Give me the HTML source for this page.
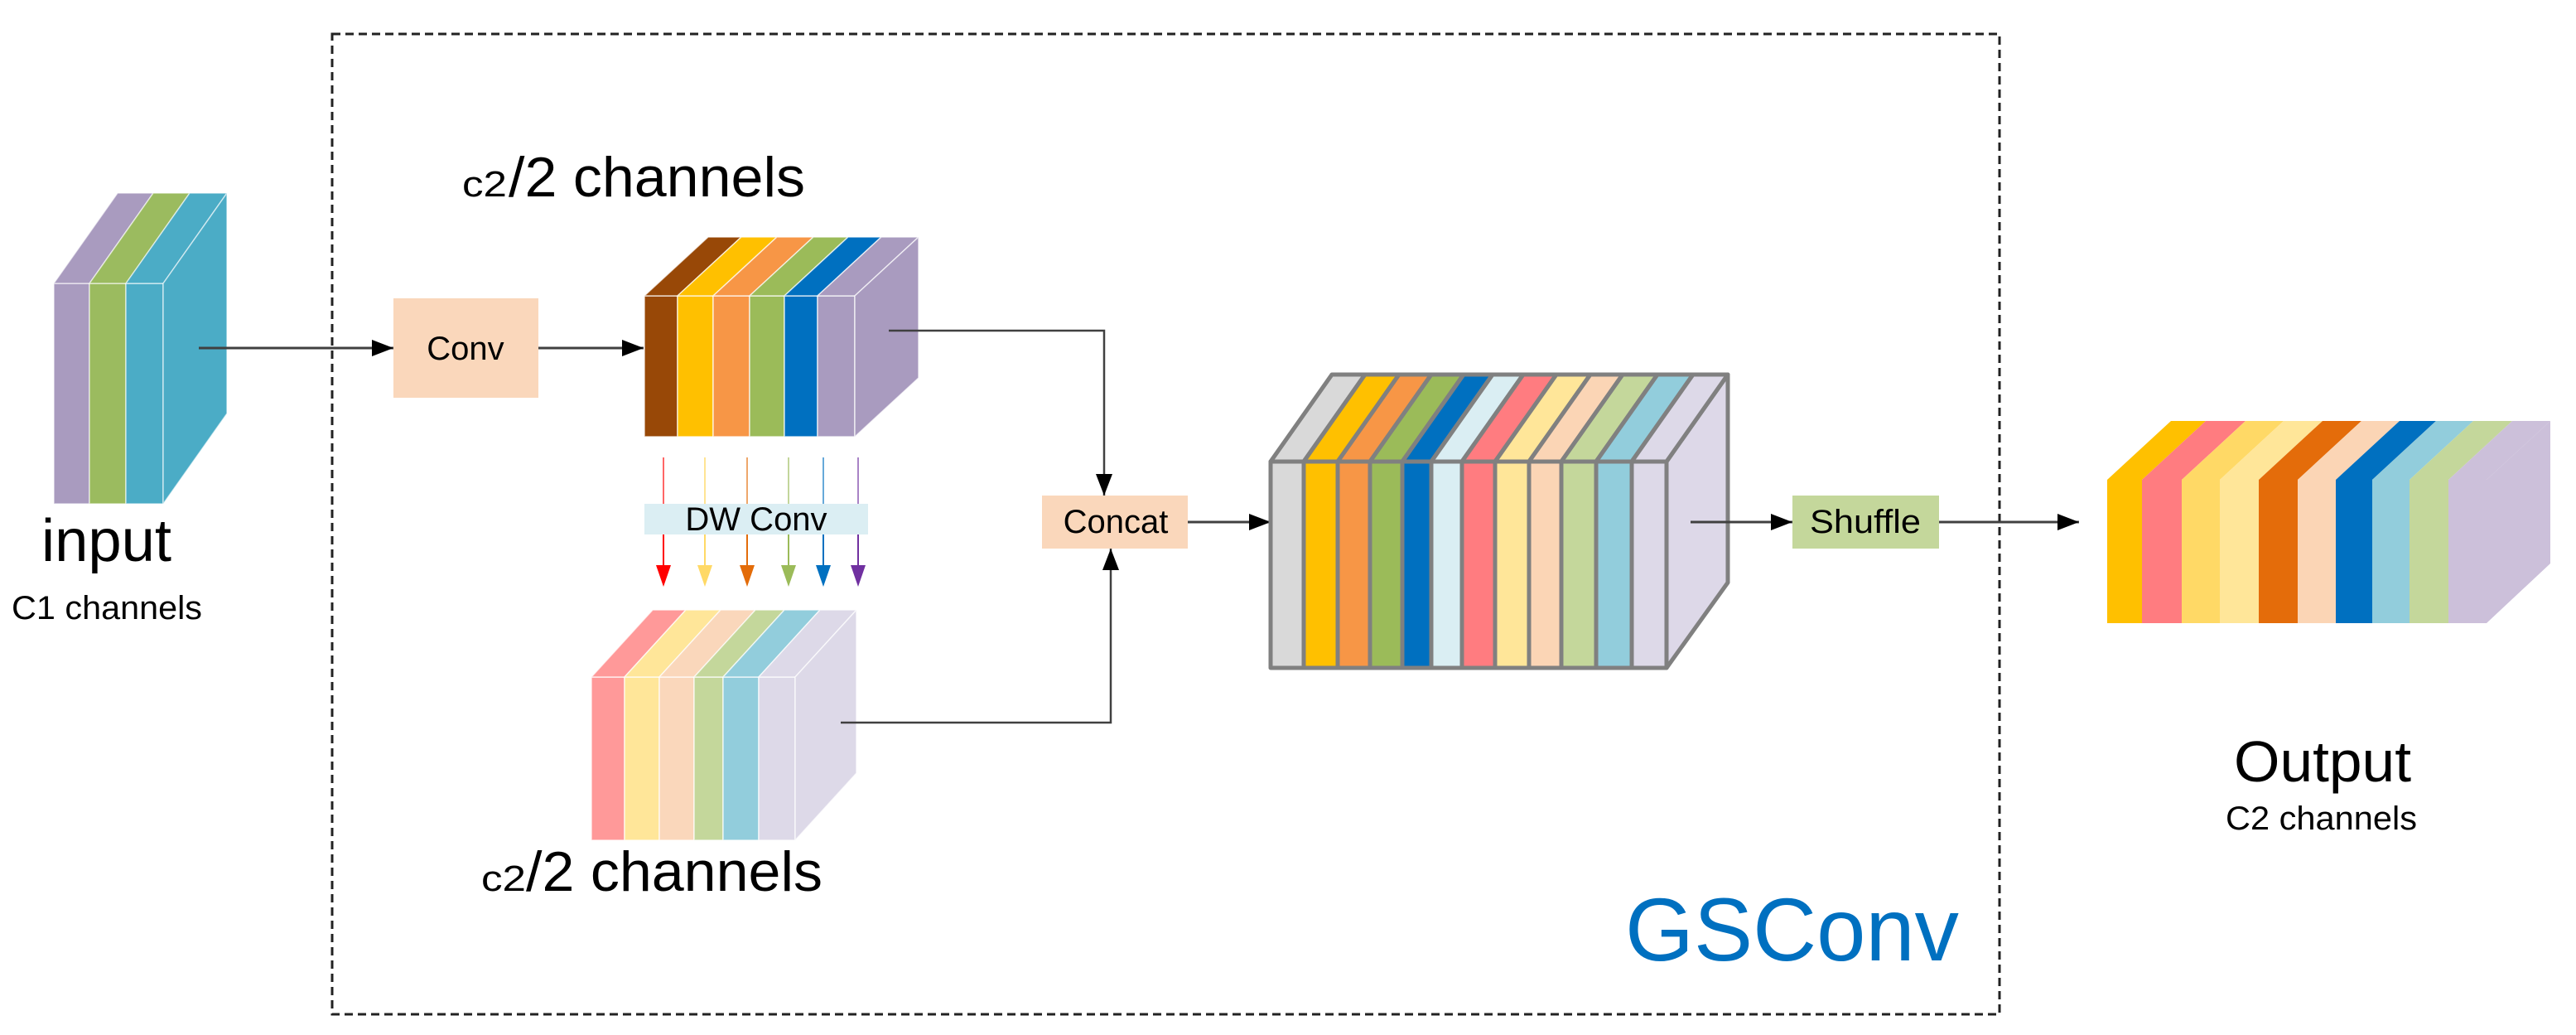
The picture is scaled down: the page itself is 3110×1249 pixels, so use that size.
<!DOCTYPE html>
<html><head><meta charset="utf-8"><style>
html,body{margin:0;padding:0;background:#fff;}
svg{display:block;}
text{font-family:"Liberation Sans",Arial,sans-serif;}
</style></head><body>
<svg width="3110" height="1249" viewBox="0 0 3110 1249" xmlns="http://www.w3.org/2000/svg">
<defs>
<marker id="ah" markerUnits="userSpaceOnUse" markerWidth="26" markerHeight="20" refX="26" refY="10" orient="auto">
<path d="M0,0 L26,10 L0,20 z" fill="#000"/>
</marker>
</defs>
<rect x="0" y="0" width="3110" height="1249" fill="#fff"/>
<!-- dashed box -->
<rect x="401" y="41" width="2013" height="1183" fill="none" stroke="#222" stroke-width="3" stroke-dasharray="10,6"/>

<!-- input block -->
<g stroke="#fff" stroke-width="1.5" stroke-opacity="0.6">
<rect x="65" y="342" width="43" height="266" fill="#a99bbf"/>
<rect x="108" y="342" width="44" height="266" fill="#9bbb5f"/>
<rect x="152" y="342" width="45" height="266" fill="#4bacc6"/>
<polygon points="65,342 142,233 185,233 108,342" fill="#a99bbf"/>
<polygon points="108,342 185,233 229,233 152,342" fill="#9bbb5f"/>
<polygon points="152,342 229,233 274,233 197,342" fill="#4bacc6"/>
<polygon points="197,342 274,233 274,499 197,608" fill="#4bacc6"/>
</g>
<text x="50" y="677" font-size="72" textLength="157" lengthAdjust="spacingAndGlyphs">input</text>
<text x="14" y="747" font-size="40" textLength="230" lengthAdjust="spacingAndGlyphs">C1 channels</text>

<!-- input -> conv -->
<line x1="240" y1="420" x2="475" y2="420" stroke="#404040" stroke-width="3" marker-end="url(#ah)"/>
<rect x="475" y="360" width="175" height="120" fill="#fad7bb"/>
<text x="562" y="434" font-size="40" text-anchor="middle">Conv</text>
<line x1="650" y1="420" x2="777" y2="420" stroke="#404040" stroke-width="3" marker-end="url(#ah)"/>

<!-- top label -->
<text x="558" y="237" font-size="44" textLength="54" lengthAdjust="spacingAndGlyphs">c2</text>
<text x="614" y="237" font-size="68" textLength="358" lengthAdjust="spacingAndGlyphs">/2 channels</text>

<!-- top block -->
<g stroke="#fff" stroke-width="1.5" stroke-opacity="0.7">
<rect x="778" y="357" width="40" height="170" fill="#984807"/>
<rect x="818" y="357" width="43" height="170" fill="#ffc000"/>
<rect x="861" y="357" width="44" height="170" fill="#f79646"/>
<rect x="905" y="357" width="42" height="170" fill="#9bbb59"/>
<rect x="947" y="357" width="40" height="170" fill="#0070c0"/>
<rect x="987" y="357" width="45" height="170" fill="#a99bbf"/>
<polygon points="778,357 855,286 895,286 818,357" fill="#984807"/>
<polygon points="818,357 895,286 938,286 861,357" fill="#ffc000"/>
<polygon points="861,357 938,286 982,286 905,357" fill="#f79646"/>
<polygon points="905,357 982,286 1024,286 947,357" fill="#9bbb59"/>
<polygon points="947,357 1024,286 1064,286 987,357" fill="#0070c0"/>
<polygon points="987,357 1064,286 1109,286 1032,357" fill="#a99bbf"/>
<polygon points="1032,357 1109,286 1109,456 1032,527" fill="#a99bbf"/>
</g>

<!-- DW conv arrows -->
<g stroke-width="2">
<line x1="801" y1="552" x2="801" y2="608" stroke="#ff0000" stroke-opacity="0.6"/>
<line x1="851" y1="552" x2="851" y2="608" stroke="#ffd966" stroke-opacity="0.7"/>
<line x1="902" y1="552" x2="902" y2="608" stroke="#e36c09" stroke-opacity="0.6"/>
<line x1="952" y1="552" x2="952" y2="608" stroke="#9bbb59" stroke-opacity="0.6"/>
<line x1="994" y1="552" x2="994" y2="608" stroke="#0070c0" stroke-opacity="0.6"/>
<line x1="1036" y1="552" x2="1036" y2="608" stroke="#7030a0" stroke-opacity="0.6"/>
<line x1="801" y1="645" x2="801" y2="690" stroke="#ff0000"/>
<line x1="851" y1="645" x2="851" y2="690" stroke="#ffd966"/>
<line x1="902" y1="645" x2="902" y2="690" stroke="#e36c09"/>
<line x1="952" y1="645" x2="952" y2="690" stroke="#9bbb59"/>
<line x1="994" y1="645" x2="994" y2="690" stroke="#0070c0"/>
<line x1="1036" y1="645" x2="1036" y2="690" stroke="#7030a0"/>
</g>
<polygon points="792,682 810,682 801,708" fill="#ff0000"/>
<polygon points="842,682 860,682 851,708" fill="#ffd966"/>
<polygon points="893,682 911,682 902,708" fill="#e36c09"/>
<polygon points="943,682 961,682 952,708" fill="#9bbb59"/>
<polygon points="985,682 1003,682 994,708" fill="#0070c0"/>
<polygon points="1027,682 1045,682 1036,708" fill="#7030a0"/>
<rect x="778" y="608" width="270" height="37" fill="#dbeef3"/>
<text x="913" y="640" font-size="40" text-anchor="middle">DW Conv</text>

<!-- bottom block -->
<g stroke="#fff" stroke-width="1.5" stroke-opacity="0.7">
<rect x="714" y="817" width="40" height="197" fill="#ff9999"/>
<rect x="754" y="817" width="42" height="197" fill="#ffe699"/>
<rect x="796" y="817" width="42" height="197" fill="#fad7bb"/>
<rect x="838" y="817" width="35" height="197" fill="#c4d79b"/>
<rect x="873" y="817" width="43" height="197" fill="#92cddc"/>
<rect x="916" y="817" width="44" height="197" fill="#ddd9e8"/>
<polygon points="714,817 788,736 828,736 754,817" fill="#ff9999"/>
<polygon points="754,817 828,736 870,736 796,817" fill="#ffe699"/>
<polygon points="796,817 870,736 912,736 838,817" fill="#fad7bb"/>
<polygon points="838,817 912,736 947,736 873,817" fill="#c4d79b"/>
<polygon points="873,817 947,736 990,736 916,817" fill="#92cddc"/>
<polygon points="916,817 990,736 1034,736 960,817" fill="#ddd9e8"/>
<polygon points="960,817 1034,736 1034,933 960,1014" fill="#ddd9e8"/>
</g>
<text x="581" y="1075" font-size="44" textLength="54" lengthAdjust="spacingAndGlyphs">c2</text>
<text x="635" y="1075" font-size="68" textLength="358" lengthAdjust="spacingAndGlyphs">/2 channels</text>

<!-- connectors to concat -->
<polyline points="1073,399 1333,399 1333,598" fill="none" stroke="#404040" stroke-width="2.5" marker-end="url(#ah)"/>
<polyline points="1015,872 1341,872 1341,662" fill="none" stroke="#404040" stroke-width="2.5" marker-end="url(#ah)"/>
<rect x="1258" y="598" width="176" height="64" fill="#fad7bb"/>
<text x="1347" y="643" font-size="40" text-anchor="middle">Concat</text>
<line x1="1434" y1="630" x2="1534" y2="630" stroke="#404040" stroke-width="3" marker-end="url(#ah)"/>

<!-- concat block -->
<g stroke="#808080" stroke-width="5" stroke-linejoin="round">
<polygon points="2012,557 2086,452 2086,703 2012,806" fill="#ddd8e8"/>
<polygon points="1534,557 1608,452 1648,452 1574,557" fill="#d9d9d9"/>
<polygon points="1574,557 1648,452 1689,452 1615,557" fill="#ffc000"/>
<polygon points="1615,557 1689,452 1728,452 1654,557" fill="#f79646"/>
<polygon points="1654,557 1728,452 1767,452 1693,557" fill="#9bbb59"/>
<polygon points="1693,557 1767,452 1802,452 1728,557" fill="#0070c0"/>
<polygon points="1728,557 1802,452 1839,452 1765,557" fill="#daeef3"/>
<polygon points="1765,557 1839,452 1879,452 1805,557" fill="#ff7c80"/>
<polygon points="1805,557 1879,452 1920,452 1846,557" fill="#ffe699"/>
<polygon points="1846,557 1920,452 1959,452 1885,557" fill="#fbd5b5"/>
<polygon points="1885,557 1959,452 2001,452 1927,557" fill="#c4d79b"/>
<polygon points="1927,557 2001,452 2044,452 1970,557" fill="#92cddc"/>
<polygon points="1970,557 2044,452 2086,452 2012,557" fill="#ddd9e8"/>
<rect x="1534" y="557" width="40" height="249" fill="#d9d9d9"/>
<rect x="1574" y="557" width="41" height="249" fill="#ffc000"/>
<rect x="1615" y="557" width="39" height="249" fill="#f79646"/>
<rect x="1654" y="557" width="39" height="249" fill="#9bbb59"/>
<rect x="1693" y="557" width="35" height="249" fill="#0070c0"/>
<rect x="1728" y="557" width="37" height="249" fill="#daeef3"/>
<rect x="1765" y="557" width="40" height="249" fill="#ff7c80"/>
<rect x="1805" y="557" width="41" height="249" fill="#ffe699"/>
<rect x="1846" y="557" width="39" height="249" fill="#fbd5b5"/>
<rect x="1885" y="557" width="42" height="249" fill="#c4d79b"/>
<rect x="1927" y="557" width="43" height="249" fill="#92cddc"/>
<rect x="1970" y="557" width="42" height="249" fill="#ddd9e8"/>
</g>

<!-- shuffle -->
<line x1="2041" y1="630" x2="2164" y2="630" stroke="#404040" stroke-width="3" marker-end="url(#ah)"/>
<rect x="2164" y="598" width="177" height="64" fill="#c4d79b"/>
<text x="2252" y="643" font-size="40" text-anchor="middle" textLength="134" lengthAdjust="spacingAndGlyphs">Shuffle</text>
<line x1="2341" y1="630" x2="2510" y2="630" stroke="#404040" stroke-width="3" marker-end="url(#ah)"/>

<!-- output block -->
<g>
<rect x="2544" y="579" width="42" height="173" fill="#ffc000"/>
<rect x="2586" y="579" width="48" height="173" fill="#ff7c80"/>
<rect x="2634" y="579" width="46" height="173" fill="#ffd966"/>
<rect x="2680" y="579" width="47" height="173" fill="#ffe699"/>
<rect x="2727" y="579" width="47" height="173" fill="#e46c0a"/>
<rect x="2774" y="579" width="46" height="173" fill="#fbd5b5"/>
<rect x="2820" y="579" width="44" height="173" fill="#0070c0"/>
<rect x="2864" y="579" width="45" height="173" fill="#92cddc"/>
<rect x="2909" y="579" width="47" height="173" fill="#c4d79b"/>
<rect x="2956" y="579" width="46" height="173" fill="#ccc0da"/>
<polygon points="2544,579 2621,508 2663,508 2586,579" fill="#ffc000"/>
<polygon points="2586,579 2663,508 2711,508 2634,579" fill="#ff7c80"/>
<polygon points="2634,579 2711,508 2757,508 2680,579" fill="#ffd966"/>
<polygon points="2680,579 2757,508 2804,508 2727,579" fill="#ffe699"/>
<polygon points="2727,579 2804,508 2851,508 2774,579" fill="#e46c0a"/>
<polygon points="2774,579 2851,508 2897,508 2820,579" fill="#fbd5b5"/>
<polygon points="2820,579 2897,508 2941,508 2864,579" fill="#0070c0"/>
<polygon points="2864,579 2941,508 2986,508 2909,579" fill="#92cddc"/>
<polygon points="2909,579 2986,508 3033,508 2956,579" fill="#c4d79b"/>
<polygon points="2956,579 3033,508 3079,508 3002,579" fill="#ccc0da"/>
<polygon points="3002,579 3079,508 3079,680 3002,752" fill="#ccc0da"/>
</g>
<text x="2697" y="943" font-size="70" textLength="214" lengthAdjust="spacingAndGlyphs">Output</text>
<text x="2687" y="1001" font-size="40" textLength="231" lengthAdjust="spacingAndGlyphs">C2 channels</text>

<text x="1962" y="1159" font-size="108" fill="#0070c0" textLength="403" lengthAdjust="spacingAndGlyphs">GSConv</text>
</svg>
</body></html>
